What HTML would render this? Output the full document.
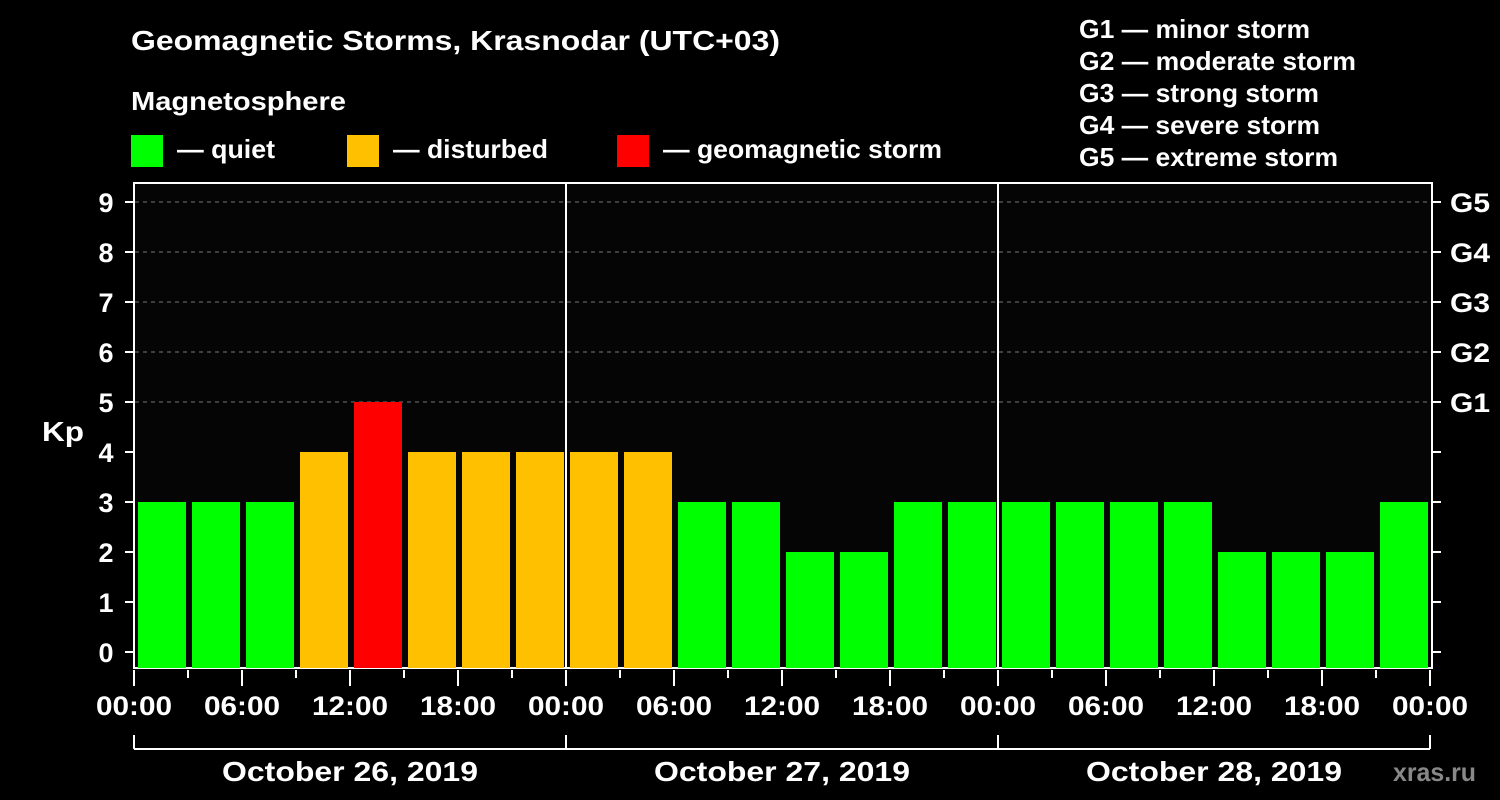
<!DOCTYPE html>
<html><head><meta charset="utf-8"><style>
body{margin:0;background:#000;}
svg{display:block;font-family:"Liberation Sans",Arial,sans-serif;font-weight:bold;}
</style></head><body>
<svg id="chart" width="1500" height="800" viewBox="0 0 1500 800">
<rect width="1500" height="800" fill="#000"/>
<text x="131" y="50" fill="#fff" font-size="28" textLength="649" lengthAdjust="spacingAndGlyphs">Geomagnetic Storms, Krasnodar (UTC+03)</text>
<text x="131" y="110" fill="#fff" font-size="26" textLength="215" lengthAdjust="spacingAndGlyphs">Magnetosphere</text>
<g><rect x="131" y="135" width="32" height="32" fill="#00ff00"/><text x="177" y="158" fill="#fff" font-size="26" textLength="98" lengthAdjust="spacingAndGlyphs">— quiet</text></g>
<g><rect x="347" y="135" width="32" height="32" fill="#ffc000"/><text x="393" y="158" fill="#fff" font-size="26" textLength="155" lengthAdjust="spacingAndGlyphs">— disturbed</text></g>
<g><rect x="617" y="135" width="32" height="32" fill="#ff0000"/><text x="663" y="158" fill="#fff" font-size="26" textLength="279" lengthAdjust="spacingAndGlyphs">— geomagnetic storm</text></g>
<g fill="#fff" font-size="26">
<text x="1079" y="38" textLength="231" lengthAdjust="spacingAndGlyphs">G1 — minor storm</text>
<text x="1079" y="70" textLength="277" lengthAdjust="spacingAndGlyphs">G2 — moderate storm</text>
<text x="1079" y="102" textLength="240" lengthAdjust="spacingAndGlyphs">G3 — strong storm</text>
<text x="1079" y="134" textLength="241" lengthAdjust="spacingAndGlyphs">G4 — severe storm</text>
<text x="1079" y="166" textLength="259" lengthAdjust="spacingAndGlyphs">G5 — extreme storm</text>
</g>
<rect x="134" y="183" width="1298" height="485" fill="#050505" stroke="#fff" stroke-width="2"/>
<g id="grid"></g><g id="bars"></g><g id="axes"></g>
<text x="42" y="441" fill="#fff" font-size="28" textLength="42" lengthAdjust="spacingAndGlyphs">Kp</text>
<text x="1393" y="781" fill="#888" font-size="26" textLength="83" lengthAdjust="spacingAndGlyphs">xras.ru</text>
</svg>
<script>
const kpValues=[3,3,3,4,5,4,4,4, 4,4,3,3,2,2,3,3, 3,3,3,3,2,2,2,3];
const dayLabels=["October 26, 2019","October 27, 2019","October 28, 2019"];
const hourLabels=["00:00","06:00","12:00","18:00"];
const yTicks=[0,1,2,3,4,5,6,7,8,9];
const gLabels=["G1","G2","G3","G4","G5"];
const NS="http://www.w3.org/2000/svg";
const X0=134,DAYW=432,BOTTOM=668;
const xScale=h=>X0+h*DAYW/24;
const yScale=v=>652-v*50;
function mk(t,a,p){const e=document.createElementNS(NS,t);for(const k in a)e.setAttribute(k,a[k]);p.appendChild(e);return e;}
const grid=document.getElementById('grid'),bars=document.getElementById('bars'),axes=document.getElementById('axes');
for(let v=5;v<=9;v++){const l=mk('line',{x1:135,x2:1431,y1:yScale(v),y2:yScale(v),stroke:'#777','stroke-dasharray':'4 4','stroke-width':1},grid);

}
kpValues.forEach((v,i)=>{const c=v>=5?'#ff0000':v>=4?'#ffc000':'#00ff00';
const r=mk('rect',{x:xScale(i*3)+4,y:yScale(v),width:xScale(3)-xScale(0)-6,height:BOTTOM-yScale(v),fill:c},bars);

});
for(let d=1;d<dayLabels.length;d++){const l=mk('line',{x1:xScale(d*24),x2:xScale(d*24),y1:183,y2:668,stroke:'#fff','stroke-width':2},axes);

}
yTicks.forEach(v=>{const y=yScale(v);
mk('line',{x1:125,x2:133,y1:y,y2:y,stroke:'#fff','stroke-width':2},axes);
mk('line',{x1:1433,x2:1441,y1:y,y2:y,stroke:'#fff','stroke-width':2},axes);
const t=mk('text',{x:106,y:y+10,fill:'#fff','font-size':27,'text-anchor':'middle'},axes);t.textContent=v;

});
gLabels.forEach((g,i)=>{const t=mk('text',{x:1450,y:yScale(5+i)+10,fill:'#fff','font-size':27,textLength:40,lengthAdjust:'spacingAndGlyphs'},axes);t.textContent=g;

});
const totalH=dayLabels.length*24;
for(let h=0;h<=totalH;h+=3){const x=xScale(h);const major=h%6===0;
mk('line',{x1:x,x2:x,y1:670,y2:major?686:678,stroke:'#fff','stroke-width':2},axes);
if(major){const t=mk('text',{x:x-38,y:715,fill:'#fff','font-size':27,textLength:76,lengthAdjust:'spacingAndGlyphs'},axes);t.textContent=hourLabels[(h/6)%4];

}}
mk('line',{x1:xScale(0),x2:xScale(totalH),y1:749,y2:749,stroke:'#fff','stroke-width':2},axes);
for(let d=0;d<=dayLabels.length;d++){const x=xScale(d*24);mk('line',{x1:x,x2:x,y1:735,y2:749,stroke:'#fff','stroke-width':2},axes);}
dayLabels.forEach((s,d)=>{const t=mk('text',{x:xScale(d*24+12)-128,y:781,fill:'#fff','font-size':28,textLength:256,lengthAdjust:'spacingAndGlyphs'},axes);t.textContent=s;

});
</script>
</body></html>
